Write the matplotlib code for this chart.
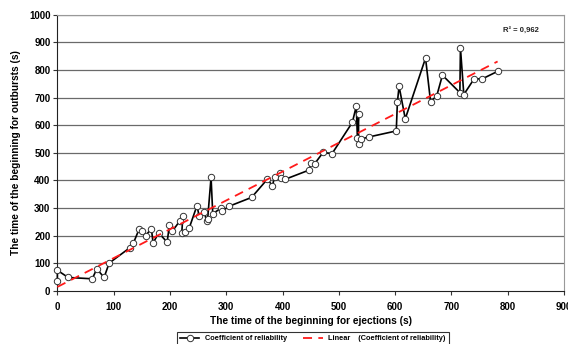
import numpy as np
import matplotlib.pyplot as plt

# ejection start time vs outburst start time (s)
ejections = [0, 0, 19, 62, 70, 83, 92, 129, 135, 145, 150, 157, 167, 170, 180, 195, 199, 204,
             218, 223, 221, 226, 234, 248, 252, 261, 265, 267, 273, 276, 290, 293, 305, 345,
             373, 382, 386, 396, 398, 405, 447, 451, 457, 472, 488, 524, 531, 533, 535, 535,
             540, 553, 602, 604, 607, 618, 654, 663, 674, 684, 715, 716, 722, 740, 755, 782]
outbursts = [35, 74, 48, 43, 79, 48, 100, 156, 172, 222, 216, 200, 225, 173, 209, 176, 237, 215,
             254, 272, 210, 214, 226, 308, 269, 285, 253, 261, 411, 279, 298, 289, 306, 338,
             404, 381, 412, 428, 410, 404, 437, 463, 460, 501, 497, 610, 669, 552, 640, 531,
             550, 557, 579, 683, 741, 623, 843, 684, 707, 781, 718, 880, 711, 767, 768, 795]

x_ticks = np.arange(0, 901, 100)
y_ticks = np.arange(0, 1001, 100)

plt.rcParams['font.family'] = ['Liberation Sans', 'DejaVu Sans']
plt.rcParams['font.weight'] = 'bold'

fig = plt.figure(figsize=(5.68, 3.44), dpi=100)
ax = fig.add_axes([0.101, 0.155, 0.892, 0.802])

for y in y_ticks[1:]:
    ax.axhline(y, color='#6a6a6a', lw=0.9, zorder=0)

ax.plot(ejections, outbursts, color='black', lw=1.2, marker='o', ms=4.6,
        mfc='white', mec='#333333', mew=0.7, label='Coefficient of reliability',
        zorder=3, clip_on=False)

# linear trendline over the same points
k, b = np.polyfit(ejections, outbursts, 1)
xt = np.array([0, max(ejections)])
ax.plot(xt, k * xt + b, color='#ff1a1a', lw=1.3, dashes=(5, 3.5),
        label='Linear    (Coefficient of reliability)', zorder=4)

ax.text(0.915, 0.945, 'R² = 0,962', transform=ax.transAxes, fontsize=5.5,
        ha='center', va='center', fontweight='bold', color='#222222')

ax.set_xlim(0, 900)
ax.set_ylim(0, 1000)
ax.set_xticks(x_ticks)
ax.set_yticks(y_ticks)
ax.tick_params(axis='both', labelsize=7, direction='out', length=3, width=0.8, color='#333333')
ax.tick_params(axis='x', pad=5)
ax.tick_params(axis='y', pad=2)

ax.spines['left'].set_color('#222222')
ax.spines['bottom'].set_color('#222222')
ax.spines['top'].set_color('#999999')
ax.spines['right'].set_color('#999999')

ax.set_xlabel('The time of the beginning for ejections (s)', fontsize=7.3, fontweight='bold', labelpad=3)
ax.set_ylabel('The time of the beginning for outbursts (s)', fontsize=7.3, fontweight='bold', labelpad=6)

leg = fig.legend(loc='upper center', bbox_to_anchor=(0.551, 0.045), ncol=2, fontsize=5.3,
                 frameon=True, fancybox=False, edgecolor='black', handlelength=2.6,
                 columnspacing=2.2, borderpad=0.4)
leg.get_frame().set_linewidth(0.8)

fig.savefig('out.png', dpi=100)
